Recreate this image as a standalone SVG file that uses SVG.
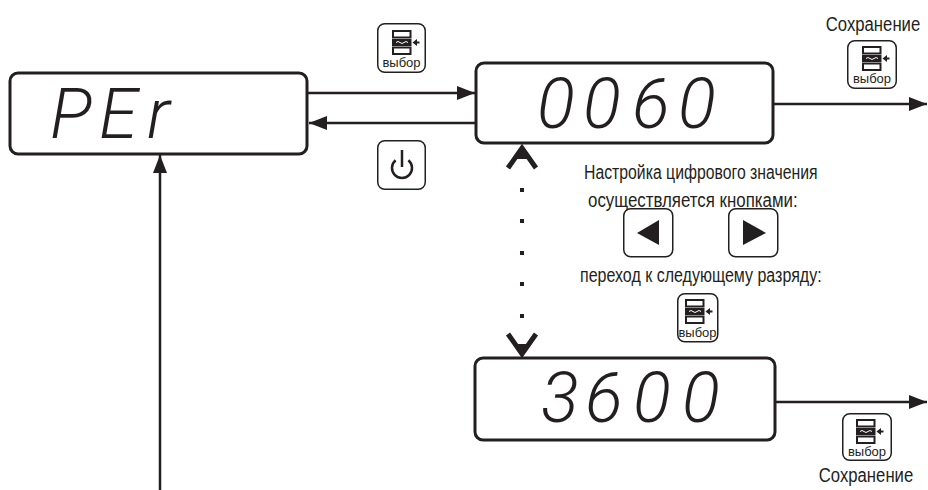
<svg xmlns="http://www.w3.org/2000/svg" xmlns:xlink="http://www.w3.org/1999/xlink" width="928" height="490" viewBox="0 0 928 490">
<style>
.box{fill:#fff;stroke:#231f20;stroke-width:3}
.btn{fill:#fff;stroke:#231f20;stroke-width:1.5}
.seg{font-family:Roboto,"DejaVu Sans",sans-serif;font-style:italic;font-weight:300;font-size:70px;fill:#231f20}
.lbl{font-family:"Liberation Sans",Arial,sans-serif;font-size:20px;fill:#231f20}
.btxt{font-family:"Liberation Sans",Arial,sans-serif;font-size:13px;fill:#231f20;text-anchor:middle}
.conn{stroke:#231f20;stroke-width:2.5;fill:none}
.chev{stroke:#231f20;stroke-width:5;fill:none;stroke-linejoin:miter}
.ico{fill:#231f20}
</style>
<defs>
<marker id="ah" markerUnits="userSpaceOnUse" markerWidth="18" markerHeight="14" refX="18" refY="7" orient="auto">
<path d="M0,0 L18,7 L0,14 z" fill="#231f20"/>
</marker>
<symbol id="selIcon" viewBox="0 0 28 25" width="28" height="25" overflow="visible">
<rect x="1" y="1" width="17.5" height="6.5" fill="#fff" stroke="#231f20" stroke-width="2"/>
<rect x="0" y="9" width="19.5" height="7" fill="#231f20"/>
<path d="M4,12.5 q2,-2 4,0 t4,0 t4,0" stroke="#fff" stroke-width="1" fill="none"/>
<rect x="1" y="17.5" width="17.5" height="6.5" fill="#fff" stroke="#231f20" stroke-width="2"/>
<path d="M27.5,12.5 H24" stroke="#231f20" stroke-width="2"/>
<path d="M20.5,12.5 L25,9 L25,16 z" fill="#231f20"/>
</symbol>
</defs>
<rect width="928" height="490" fill="#fff"/>

<g id="connectors">
<line class="conn" x1="308" y1="93" x2="475" y2="93" marker-end="url(#ah)"/>
<line class="conn" x1="475" y1="123" x2="309" y2="123" marker-end="url(#ah)"/>
<line class="conn" x1="773" y1="104" x2="927" y2="104" marker-end="url(#ah)"/>
<line class="conn" x1="775" y1="402" x2="927" y2="402" marker-end="url(#ah)"/>
<line class="conn" x1="160" y1="490" x2="160" y2="155" marker-end="url(#ah)"/>
<g id="dotted-link">
<polyline class="chev" points="508,168 522,148 536,168"/>
<polygon class="ico" points="522,147 516,159 528,159"/>
<rect class="ico" x="520" y="188" width="4" height="4"/>
<rect class="ico" x="520" y="219" width="4" height="4"/>
<rect class="ico" x="520" y="251" width="4" height="4"/>
<rect class="ico" x="520" y="282" width="4" height="4"/>
<rect class="ico" x="520" y="314" width="4" height="4"/>
<polyline class="chev" points="508,334 522,354 536,334"/>
<polygon class="ico" points="522,356 516,344 528,344"/>
</g>
</g>

<g id="node-per">
<rect class="box" x="10" y="73" width="297" height="81" rx="8"/>
<text class="seg" x="50 99 147" y="138">PEr</text>
</g>

<g id="node-0060">
<rect class="box" x="476" y="63" width="297" height="80" rx="8"/>
<text class="seg" x="537 583 632 678" y="128">0060</text>
</g>

<g id="node-3600">
<rect class="box" x="475" y="358" width="300" height="82" rx="8"/>
<text class="seg" x="541 585 633 682" y="422">3600</text>
</g>

<g id="btn-select-top">
<rect class="btn" x="377.75" y="23.75" width="47.5" height="48.5" rx="7"/>
<use xlink:href="#selIcon" href="#selIcon" x="392" y="30"/>
<text class="btxt" x="401.5" y="67">выбор</text>
</g>

<g id="btn-power">
<rect class="btn" x="377.75" y="140.75" width="47.5" height="48.5" rx="7"/>
<path d="M395.6,160.3 A10,10 0 1 0 408.4,160.3" stroke="#231f20" stroke-width="2.5" fill="none"/>
<line x1="402" y1="150" x2="402" y2="167" stroke="#231f20" stroke-width="2.5"/>
</g>

<g id="btn-save-top">
<text class="lbl" transform="translate(873,31) scale(0.8,1)" text-anchor="middle" font-size="21" textLength="118" lengthAdjust="spacingAndGlyphs">Сохранение</text>
<rect class="btn" x="847.75" y="40.75" width="48.5" height="47.5" rx="7"/>
<use xlink:href="#selIcon" href="#selIcon" x="862" y="46"/>
<text class="btxt" x="872" y="83">выбор</text>
</g>

<g id="hint">
<text class="lbl" transform="translate(584,179) scale(0.8,1)" textLength="292" lengthAdjust="spacingAndGlyphs">Настройка цифрового значения</text>
<text class="lbl" transform="translate(588,207) scale(0.8,1)" textLength="262" lengthAdjust="spacingAndGlyphs">осуществляется кнопками:</text>
<g id="btn-left">
<rect class="btn" x="623.75" y="208.75" width="49" height="48" rx="7"/>
<polygon class="ico" points="637,233 659,220 659,245"/>
</g>
<g id="btn-right">
<rect class="btn" x="728.75" y="208.75" width="49" height="48" rx="7"/>
<polygon class="ico" points="766,233 743,220 743,245"/>
</g>
<text class="lbl" transform="translate(580,282) scale(0.8,1)" textLength="302" lengthAdjust="spacingAndGlyphs">переход к следующему разряду:</text>
<g id="btn-select-mid">
<rect class="btn" x="677.75" y="293.75" width="40" height="48" rx="7"/>
<use xlink:href="#selIcon" href="#selIcon" x="685" y="299"/>
<text class="btxt" x="697.5" y="337">выбор</text>
</g>
</g>

<g id="btn-save-bottom">
<rect class="btn" x="842.75" y="413.75" width="48.5" height="46.5" rx="7"/>
<use xlink:href="#selIcon" href="#selIcon" x="856" y="419"/>
<text class="btxt" x="867" y="456">выбор</text>
<text class="lbl" transform="translate(866,482) scale(0.8,1)" text-anchor="middle" font-size="21" textLength="118" lengthAdjust="spacingAndGlyphs">Сохранение</text>
</g>
</svg>
